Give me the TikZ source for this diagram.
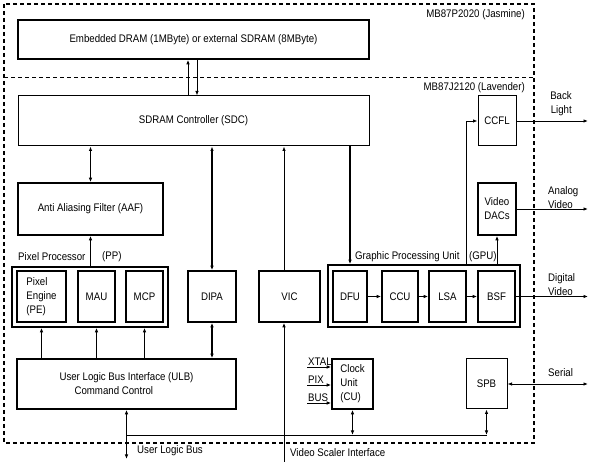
\documentclass[tikz,border=0pt]{standalone}
\usepackage{fontspec}
\setmainfont{Liberation Sans}[FakeStretch=0.88]
\usetikzlibrary{arrows.meta}

\begin{document}
\begin{tikzpicture}[x=1pt,y=-1pt,>={Latex[length=4.5pt,width=3.5pt]},
  box/.style={draw,line width=1.6pt,inner sep=0pt,align=center},
  lbox/.style={draw,line width=1pt,inner sep=0pt,align=center},
  wire/.style={draw,line width=0.9pt},
  bus/.style={draw,line width=1.8pt},
  lbl/.style={inner sep=1pt,align=left}]
\fontsize{11}{14}\selectfont
\useasboundingbox (0,0) rectangle (595,470);
% chip borders
\path[draw,line width=1.4pt,dash pattern=on 4pt off 3pt] (4,4) rectangle (534,443);
\path[draw,line width=0.9pt,dash pattern=on 4pt off 3pt] (4,77) -- (534,77);
\node[lbl,anchor=east] (jas) at (526,15) {MB87P2020 (Jasmine)};
\node[lbl,anchor=east] (lav) at (526,88) {MB87J2120 (Lavender)};
% memory side
\node[box,minimum width=351pt,minimum height=39pt] (dram) at (193.5,39.5) {Embedded DRAM (1MByte) or external SDRAM (8MByte)};
\node[lbox,minimum width=351pt,minimum height=50pt] (sdc) at (193.5,121) {SDRAM Controller (SDC)};
\node[box,minimum width=145pt,minimum height=52pt] (aaf) at (90.5,209) {Anti Aliasing Filter (AAF)};
% pixel processor
\node[box,minimum width=156pt,minimum height=60pt] (pp) at (90,297) {};
\node[box,minimum width=49pt,minimum height=51pt,align=left] (pe) at (41.5,296.5) {Pixel\\Engine\\(PE)};
\node[box,minimum width=37pt,minimum height=51pt] (mau) at (96.5,296.5) {MAU};
\node[box,minimum width=37pt,minimum height=51pt] (mcp) at (144.5,296.5) {MCP};
\node[lbl,anchor=west] (pplbl) at (17,257) {Pixel Processor};
\node[lbl,anchor=west] (ppabbr) at (101,257) {(PP)};
\node[box,minimum width=48pt,minimum height=51pt] (dipa) at (212,296.5) {DIPA};
\node[box,minimum width=61pt,minimum height=51pt] (vic) at (289.5,296.5) {VIC};
% graphic processing unit
\node[box,minimum width=192pt,minimum height=62pt] (gpu) at (424,296) {};
\node[box,minimum width=34pt,minimum height=51pt] (dfu) at (350,296.5) {DFU};
\node[box,minimum width=36pt,minimum height=51pt] (ccu) at (400,296.5) {CCU};
\node[box,minimum width=37pt,minimum height=51pt] (lsa) at (447.5,296.5) {LSA};
\node[box,minimum width=37pt,minimum height=51pt] (bsf) at (496.5,296.5) {BSF};
\node[lbl,anchor=west] (gpulbl) at (354,257) {Graphic Processing Unit};
\node[lbl,anchor=west] (gpuabbr) at (468,257) {(GPU)};
\node[lbox,minimum width=38pt,minimum height=50pt] (ccfl) at (497,121) {CCFL};
\node[box,minimum width=38pt,minimum height=52pt] (dacs) at (497,209) {Video\\DACs};
% bus side
\node[box,minimum width=219pt,minimum height=50pt,align=left] (ulb) at (126.5,384) {User Logic Bus Interface (ULB)\\\hspace*{15pt}Command Control};
\node[box,minimum width=41pt,minimum height=50pt,align=left] (cu) at (352.5,384) {Clock\\Unit\\(CU)};
\node[lbox,minimum width=41pt,minimum height=50pt] (spb) at (486.5,384) {SPB};
\coordinate (ulbend) at (126.5,459);
\coordinate (busl) at (126.5,435);
\coordinate (busr) at (486.5,435);
\coordinate (vsi) at (284,462);
\coordinate (blight) at (588,121);
\coordinate (avideo) at (588,209);
\coordinate (dvideo) at (588,296.5);
\coordinate (serial) at (588,384);
\coordinate (xtal) at (307,367);
\coordinate (pix) at (307,385);
\coordinate (busin) at (307,403);
\node[lbl,anchor=east,align=right] (bllbl) at (573,104) {Back\\Light};
\node[lbl,anchor=west] (avlbl) at (547,198) {Analog\\Video};
\node[lbl,anchor=west] (dvlbl) at (547,285) {Digital\\Video};
\node[lbl,anchor=west] (serlbl) at (547,373) {Serial};
\node[lbl,anchor=south west] (xtallbl) at (xtal) {XTAL};
\node[lbl,anchor=south west] (pixlbl) at (pix) {PIX};
\node[lbl,anchor=south west] (buslbl) at (busin) {BUS};
\node[lbl,anchor=west] (ulblbl) at (136,451) {User Logic Bus};
\node[lbl,anchor=west] (vsilbl) at (289,453) {Video Scaler Interface};
% connections
\path[wire,->] ([xshift=-5.5pt]sdc.north) -- ([xshift=-5.5pt]dram.south);
\path[wire,->] ([xshift=3.5pt]dram.south) -- ([xshift=3.5pt]sdc.north);
\path[wire,<->] (sdc.south -| aaf) -- (aaf.north);
\path[wire,->] (pp.north -| aaf) -- (aaf.south);
\path[bus,<->] (sdc.south -| dipa) -- (dipa.north);
\path[wire,->] ([xshift=-5.5pt]vic.north) -- ([xshift=-5.5pt]vic.north |- sdc.south);
\path[bus,->] (sdc.south -| dfu) -- (gpu.north -| dfu);
\path[wire,->] (gpu.north -| lsa.east) |- (ccfl.west);
\path[wire,->] (gpu.north -| dacs) -- (dacs.south);
\path[wire,->] (dfu.east) -- (ccu.west);
\path[wire,->] (ccu.east) -- (lsa.west);
\path[wire,->] (lsa.east) -- (bsf.west);
\path[wire,->] (ccfl.east) -- (blight);
\path[wire,->] (dacs.east) -- (avideo);
\path[wire,->] (bsf.east) -- (dvideo);
\path[bus,->] (ulb.north -| pe) -- (pp.south -| pe);
\path[wire,->] (ulb.north -| mau) -- (pp.south -| mau);
\path[wire,->] (ulb.north -| mcp) -- (pp.south -| mcp);
\path[bus,<->] (dipa.south) -- (dipa.south |- ulb.north);
\path[bus,<->] (ulb.south) -- (ulbend);
\path[wire] (busl) -- (busr);
\path[wire,<->] (cu.south) -- (cu.south |- busl);
\path[wire,<->] (spb.south) -- (busr);
\path[wire,<->] (spb.east) -- (serial);
\path[wire,->] (xtal) -- (xtal -| cu.west);
\path[wire,->] (pix) -- (pix -| cu.west);
\path[wire,->] (busin) -- (busin -| cu.west);
\path[wire,->] (vsi) -- (vsi |- vic.south);
\end{tikzpicture}
\end{document}
